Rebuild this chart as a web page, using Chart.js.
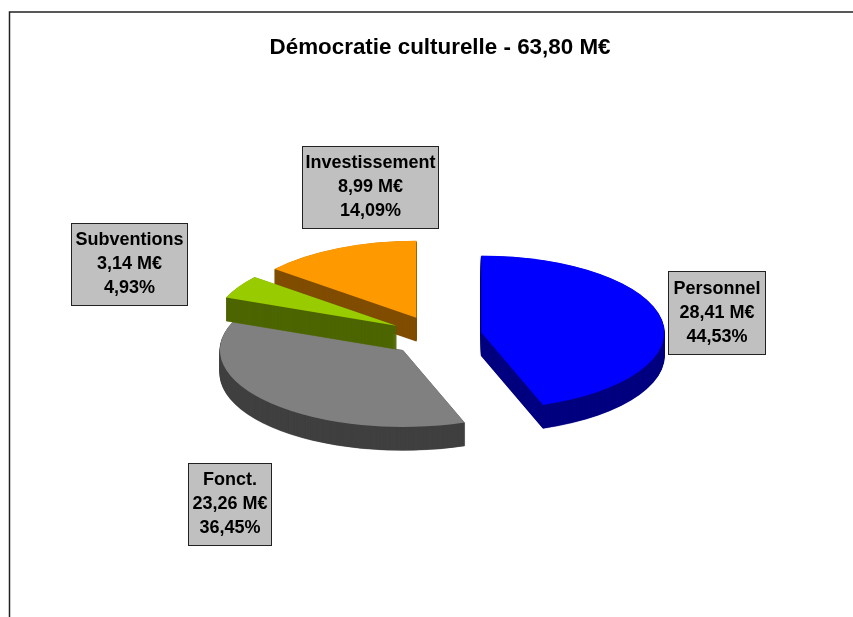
<!DOCTYPE html>
<html lang="fr">
<head>
<meta charset="utf-8">
<title>Démocratie culturelle</title>
<script src="https://cdn.jsdelivr.net/npm/chart.js@4"></script>
<style>
  html, body { margin: 0; padding: 0; background: #fff; overflow: hidden; }
  canvas { display: block; }
</style>
</head>
<body>
<canvas id="pie" width="853" height="617"></canvas>
<script>
// Budget breakdown, in millions of euros, clockwise from twelve o'clock
const categories = ['Personnel', 'Fonct.', 'Subventions', 'Investissement'];
const amounts = [28.41, 23.26, 3.14, 8.99];
const amountLabels = ['28,41 M€', '23,26 M€', '3,14 M€', '8,99 M€'];
const percentLabels = ['44,53%', '36,45%', '4,93%', '14,09%'];
const topColors = ['#0000FF', '#808080', '#99CC00', '#FF9900'];
const sideColors = ['#000080', '#404040', '#4D6600', '#804D00'];
const chartTitle = 'Démocratie culturelle - 63,80 M€';

// Painter's order for the extruded slices: the back wedges overlap the grey one
const paintOrder = [0, 1, 3, 2];

// Callout boxes [left, top, right, bottom], one per category
const calloutBoxes = [
  [668, 271, 766, 355],
  [188, 463, 272, 546],
  [71, 223, 188, 306],
  [302, 146, 439, 229]
];

const tilt = 0.42;        // vertical squash of the pie plane
const explodeTilt = 0.44; // vertical squash of the explosion offset
const thickness = 23.5;   // extrusion height in pixels
const explode = 46;       // distance each slice is pulled from the centre
const centreShiftX = -4;  // the pie sits slightly left of the title's axis

const frame = {
  id: 'frame',
  beforeDraw(chart) {
    const { ctx, width, height } = chart;
    ctx.save();
    ctx.fillStyle = '#fff';
    ctx.fillRect(0, 0, width, height);
    ctx.strokeStyle = '#222';
    ctx.lineWidth = 1.5;
    ctx.beginPath();
    ctx.moveTo(9.5, height);
    ctx.lineTo(9.5, 12);
    ctx.lineTo(width, 12);
    ctx.stroke();
    ctx.restore();
  }
};

// Draws the library's arc elements on a tilted plane, with a darker extruded wall
const tiltedPie = {
  id: 'tiltedPie',
  beforeDatasetsDraw(chart) {
    const { ctx } = chart;
    const arcs = chart.getDatasetMeta(0).data;
    const paint = (arc, color, dy, outlined) => {
      const { y, startAngle, endAngle } = arc.getProps(['y', 'startAngle', 'endAngle'], true);
      const mid = (startAngle + endAngle) / 2;
      const resolved = arc.options;
      arc.options = {
        ...resolved,
        backgroundColor: color,
        borderColor: color,
        borderWidth: outlined ? 0.6 : 0,
        borderJoinStyle: 'miter'
      };
      ctx.save();
      ctx.translate(centreShiftX + Math.cos(mid) * explode, y + Math.sin(mid) * explode * explodeTilt + dy);
      ctx.scale(1, tilt);
      ctx.translate(0, -y);
      arc.draw(ctx);
      ctx.restore();
      arc.options = resolved;
    };
    paintOrder.forEach((i) => {
      for (let dy = thickness; dy > 0; dy -= 0.5) paint(arcs[i], sideColors[i], dy, true);
      paint(arcs[i], topColors[i], 0, false);
    });
    return false;
  }
};

const callouts = {
  id: 'callouts',
  afterDraw(chart) {
    const { ctx } = chart;
    ctx.save();
    ctx.font = 'bold 18px "Liberation Sans", Arial, sans-serif';
    ctx.textAlign = 'center';
    ctx.textBaseline = 'middle';
    calloutBoxes.forEach(([l, t, r, b], i) => {
      ctx.fillStyle = '#C0C0C0';
      ctx.fillRect(l, t, r - l, b - t);
      ctx.strokeStyle = '#222';
      ctx.lineWidth = 1;
      ctx.strokeRect(l + 0.5, t + 0.5, r - l - 1, b - t - 1);
      ctx.fillStyle = '#000';
      const cx = (l + r) / 2;
      const cy = (t + b) / 2;
      [categories[i], amountLabels[i], percentLabels[i]].forEach((line, n) => {
        ctx.fillText(line, cx, cy + (n - 1) * 24);
      });
    });
    ctx.restore();
  }
};

new Chart(document.getElementById('pie'), {
  type: 'pie',
  data: {
    labels: categories,
    datasets: [{ data: amounts, backgroundColor: topColors, borderWidth: 0 }]
  },
  plugins: [frame, tiltedPie, callouts],
  options: {
    responsive: false,
    animation: false,
    layout: { padding: { top: 34, left: 27, right: 0, bottom: 98 } },
    plugins: {
      legend: { display: false },
      tooltip: { enabled: false },
      title: {
        display: true,
        text: chartTitle,
        color: '#000',
        font: { family: '"Liberation Sans", Arial, sans-serif', size: 22.4, weight: 'bold' },
        padding: { top: 0, bottom: 92.1 }
      }
    }
  }
});
</script>
</body>
</html>
